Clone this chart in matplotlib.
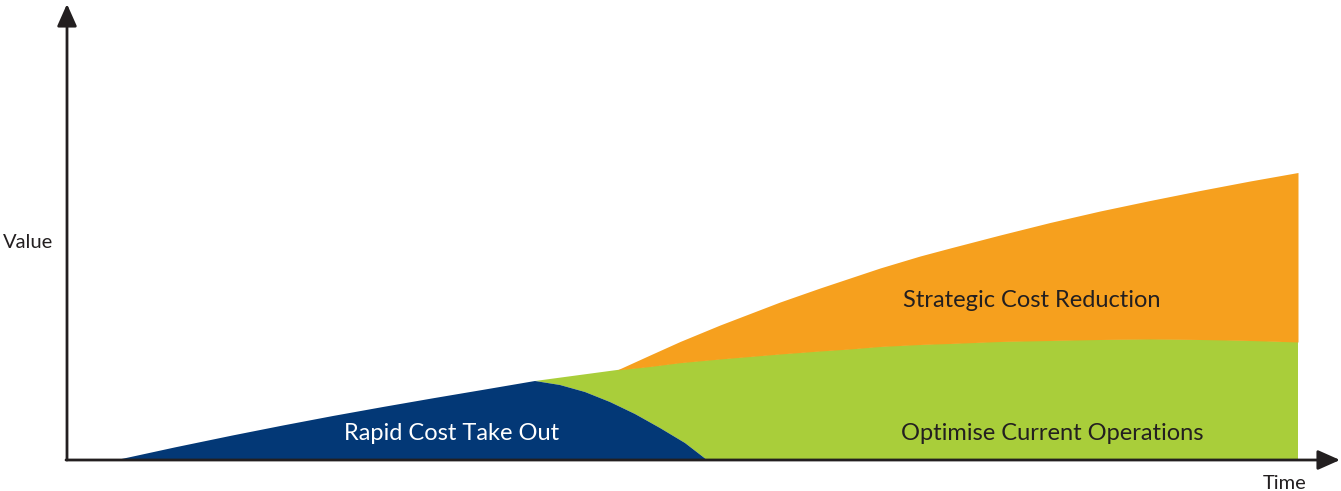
import matplotlib
matplotlib.use("Agg")
import matplotlib.pyplot as plt

# ---- data (time units, value units) ----
rapid_t = [50, 108, 166, 216, 266, 316, 366, 417, 468, 493, 518, 543, 568, 593, 618, 640]
rapid_v = [0, 12.6, 24.6, 34.5, 44, 53, 61.7, 70.3, 79, 75, 68, 58, 46, 32, 17, 0]

# lower boundary of the "Optimise" area (falling edge of rapid, then axis)
optimise_base_t = [468, 493, 518, 543, 568, 593, 618, 640, 1231]
optimise_base_v = [79, 75, 68, 58, 46, 32, 17, 0, 0]

optimise_top_t = [468, 550, 583, 613, 653, 683, 713, 753, 783, 813, 853, 883,
                  933, 983, 1033, 1083, 1133, 1183, 1231]
optimise_top_v = [79, 90, 93.5, 97.3, 101, 103.5, 106, 109, 111, 113.5, 115.5, 116.5,
                  118.5, 119.5, 120.5, 121, 120.5, 119.5, 118]

strategic_t = optimise_top_t[1:]
strategic_low_v = optimise_top_v[1:]
strategic_top_v = [90, 105, 118.5, 135, 146.5, 158, 172, 182, 192, 204, 212,
                   225, 237.5, 249, 259.5, 269.5, 279, 287.5]

labels = ["Rapid Cost Take Out", "Optimise Current Operations", "Strategic Cost Reduction"]
axis_labels = ["Value", "Time"]

BLUE = "#033876"
GREEN = "#A9CE3A"
ORANGE = "#F6A01E"
DARK = "#231F20"
FONT = ["Lato", "DejaVu Sans"]

fig = plt.figure(figsize=(13.41, 4.91), dpi=100)
ax = fig.add_axes([0, 0, 1, 1])
ax.set_xlim(-67, 1274)
ax.set_ylim(-31, 460)
ax.axis("off")

# Optimise Current Operations (green)
gx = list(optimise_top_t) + list(optimise_base_t[::-1])
gy = list(optimise_top_v) + list(optimise_base_v[::-1])
ax.fill(gx, gy, color=GREEN, lw=0, zorder=1)

# Strategic Cost Reduction (orange)
ax.fill_between(strategic_t, strategic_low_v, strategic_top_v, color=ORANGE, lw=0, zorder=2)

# Rapid Cost Take Out (blue)
ax.fill(rapid_t, rapid_v, color=BLUE, lw=0, zorder=3)

# axes with arrows
arrow = dict(arrowstyle="-|>,head_length=0.45,head_width=0.2", mutation_scale=30,
             lw=2, color=DARK, shrinkA=0, shrinkB=0)
ax.annotate("", xy=(0, 456), xytext=(0, 0), arrowprops=arrow, zorder=5)
ax.annotate("", xy=(1273, 0), xytext=(-1, 0), arrowprops=arrow, zorder=5)

# labels
ax.text(384.5, 20, labels[0], color="white", fontsize=17, family=FONT,
        ha="center", va="baseline", zorder=6)
ax.text(985, 20, labels[1], color=DARK, fontsize=17, family=FONT,
        ha="center", va="baseline", zorder=6)
ax.text(965, 153, labels[2], color=DARK, fontsize=17, family=FONT,
        ha="center", va="baseline", zorder=6)
ax.text(-64, 212, axis_labels[0], color=DARK, fontsize=14.5, family=FONT,
        ha="left", va="baseline", zorder=6)
ax.text(1218, -29, axis_labels[1], color=DARK, fontsize=14.5, family=FONT,
        ha="center", va="baseline", zorder=6)

fig.savefig("out.png", dpi=100)
